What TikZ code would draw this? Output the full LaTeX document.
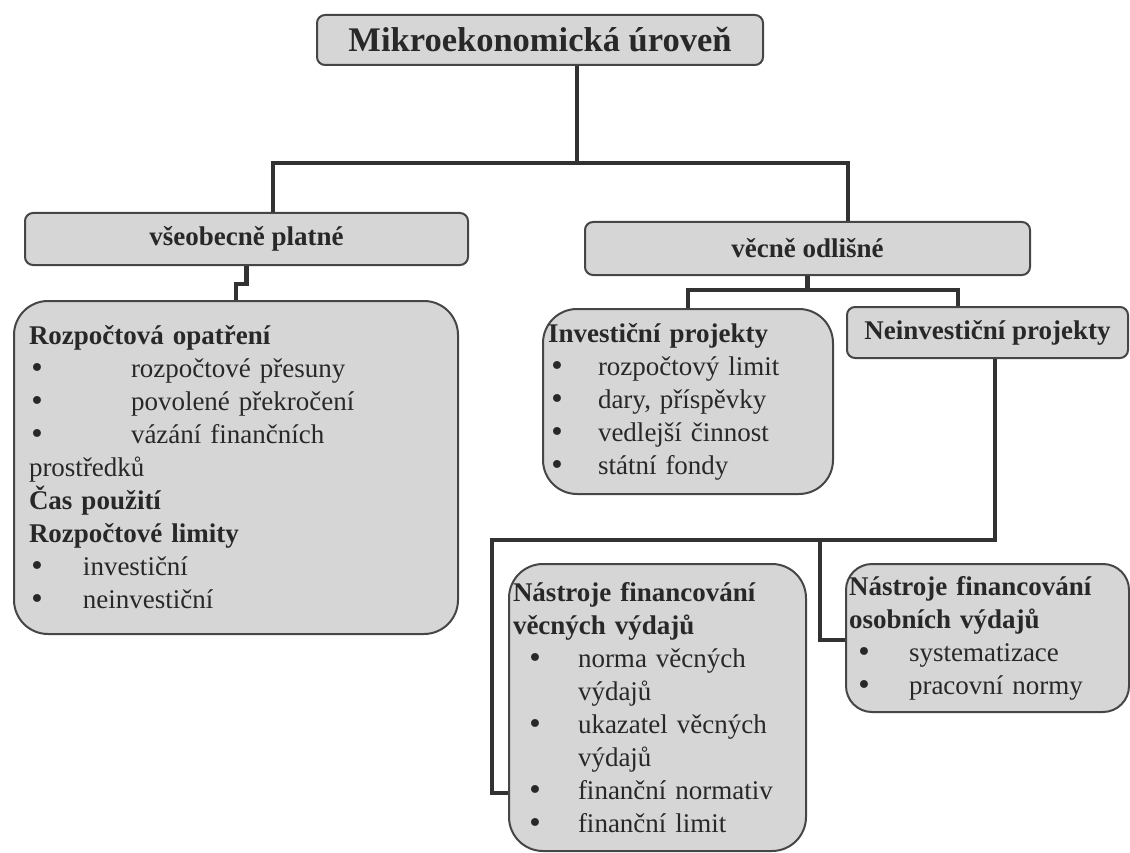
\documentclass[tikz,border=0pt]{standalone}
\usepackage{fontspec}
\setmainfont{Liberation Serif}
\newfontfamily\bulfont{DejaVu Sans}

\definecolor{boxfill}{RGB}{214,214,214}
\definecolor{boxline}{RGB}{70,70,70}
\definecolor{connline}{RGB}{50,50,50}
\definecolor{inkgray}{RGB}{40,40,40}

\newcommand{\bul}[2]{\hspace*{#1}\makebox[#2][l]{\bulfont\textbullet}}

\tikzset{
  hbox/.style={draw=boxline, line width=2pt, fill=boxfill, rounded corners=8pt,
    inner sep=0pt, text=inkgray, font=\fontsize{27}{33}\selectfont\bfseries},
  lbox/.style={draw=boxline, line width=2pt, fill=boxfill, rounded corners=34pt,
    anchor=north west, align=left, inner ysep=0pt, text=inkgray,
    font=\fontsize{27}{33}\selectfont},
  conn/.style={draw=connline, line width=4.5pt},
}

\begin{document}
\begin{tikzpicture}[x=1pt,y=-1pt]
\useasboundingbox (0,0) rectangle (1130,853);

\node[hbox, minimum width=446pt, minimum height=50pt,
  font=\fontsize{34.5}{38}\selectfont\bfseries] (top) at (540,40) {Mikroekonomická úroveň};

\node[hbox, minimum width=443pt, minimum height=52pt] (vseob) at (246.5,239) {všeobecně platné};
\node[hbox, minimum width=445pt, minimum height=53pt] (vecne) at (807.5,248.5) {věcně odlišné};

\node[lbox, text width=414pt, inner xsep=15pt, minimum height=333pt] (rozp) at (13,300) {%
\textbf{Rozpočtová opatření}\\
\bul{0pt}{102pt}rozpočtové přesuny\\
\bul{0pt}{102pt}povolené překročení\\
\bul{0pt}{102pt}vázání finančních\\
prostředků\\
\textbf{Čas použití}\\
\textbf{Rozpočtové limity}\\
\bul{0pt}{54pt}investiční\\
\bul{0pt}{54pt}neinvestiční};

\node[lbox, text width=280pt, inner xsep=5pt, minimum height=185pt] (inv) at (542,308) {%
\textbf{Investiční projekty}\\
\bul{1pt}{49pt}rozpočtový limit\\
\bul{1pt}{49pt}dary, příspěvky\\
\bul{1pt}{49pt}vedlejší činnost\\
\bul{1pt}{49pt}státní fondy};

\node[hbox, minimum width=281pt, minimum height=51pt] (neinv) at (987.5,332.5) {Neinvestiční projekty};

\node[lbox, text width=289pt, inner xsep=4pt, minimum height=287pt] (vecn) at (508,563) {%
\textbf{Nástroje financování}\\
\textbf{věcných výdajů}\\
\bul{14pt}{51pt}norma věcných\\
\hspace*{65pt}výdajů\\
\bul{14pt}{51pt}ukazatel věcných\\
\hspace*{65pt}výdajů\\
\bul{14pt}{51pt}finanční normativ\\
\bul{14pt}{51pt}finanční limit};

\node[lbox, rounded corners=26pt, text width=277pt, inner xsep=3pt, minimum height=148pt] (osob) at (845,563) {%
\textbf{Nástroje financování}\\
\textbf{osobních výdajů}\\
\bul{7pt}{53pt}systematizace\\
\bul{7pt}{53pt}pracovní normy};

% junctions
\coordinate (t1) at (577,163);
\coordinate (t2) at (273,163);
\coordinate (t3) at (848,163);
\coordinate (n1) at (958,290);
\coordinate (k1) at (995,540);
\coordinate (k2) at (492,540);
\coordinate (k3) at (492,793);
\coordinate (k4) at (820,540);
\coordinate (k5) at (820,640);

\path[conn] (t1 |- top.south) -- (t1);
\path[conn] (t2 |- vseob.north) |- (t3) -- (t3 |- vecne.north);
\path[conn] (vseob.south) -- ++(0,18) -| (rozp.north);
\path[conn] (vecne.south) -- (vecne.south |- n1);
\path[conn] (inv.north) |- (n1) -- (n1 |- neinv.north);
\path[conn] (k1 |- neinv.south) -- (k1) -- (k2) -- (k3) -- (k3 -| vecn.west);
\path[conn] (k4) -- (k5) -- (k5 -| osob.west);
\end{tikzpicture}
\end{document}
